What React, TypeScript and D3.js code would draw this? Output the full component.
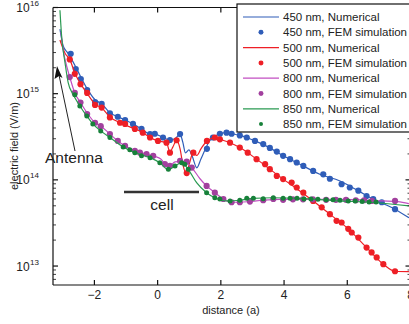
import React from 'react';
import * as d3 from 'd3';

type Pt = [number, number];

// distance (a), electric field (V/m)
const xTicks = [-2, 0, 2, 4, 6, 8];
const yDecades = [13, 14, 15, 16];

const legendLabels = [
  '450 nm, Numerical',
  '450 nm, FEM simulation',
  '500 nm, Numerical',
  '500 nm, FEM simulation',
  '800 nm, Numerical',
  '800 nm, FEM simulation',
  '850 nm, Numerical',
  '850 nm, FEM simulation',
];

const num450: Pt[] = [
  [-3.09, 5.6e15], [-2.99, 3.6e15], [-2.84, 2.95e15], [-2.72, 2.5e15], [-2.59, 2.04e15],
  [-2.43, 1.56e15], [-2.24, 1.16e15], [-1.98, 8.5e14], [-1.76, 7.6e14], [-1.51, 6.0e14],
  [-1.26, 5.4e14], [-1.03, 4.95e14], [-0.78, 4.46e14], [-0.51, 3.9e14], [-0.24, 3.4e14],
  [-0.09, 3.4e14], [0.17, 3.1e14], [0.39, 2.9e14], [0.58, 3.07e14], [0.71, 3.4e14],
  [0.8, 2.7e14], [0.88, 2.06e14], [0.99, 2.23e14], [1.09, 1.9e14], [1.24, 1.38e14],
  [1.37, 1.75e14], [1.5, 2.23e14], [1.62, 2.75e14], [1.75, 3.1e14], [1.97, 3.43e14],
  [2.19, 3.53e14], [2.35, 3.43e14], [2.6, 3.28e14], [3.08, 2.83e14], [3.55, 2.35e14],
  [3.97, 1.9e14], [4.5, 1.52e14], [5.13, 1.16e14], [5.77, 9.7e13], [6.34, 7.5e13],
  [6.82, 5.97e13], [7.51, 4.57e13], [7.95, 3.63e13],
];

const fem450: Pt[] = [
  [-2.75, 2.9e15], [-2.59, 1.93e15], [-2.43, 1.48e15], [-2.23, 1.1e15], [-1.98, 8.0e14],
  [-1.77, 7.6e14], [-1.51, 5.9e14], [-1.26, 5.4e14], [-1.03, 4.95e14], [-0.78, 4.46e14],
  [-0.51, 3.9e14], [-0.24, 3.4e14], [-0.09, 3.43e14], [0.17, 3.1e14], [0.39, 2.9e14],
  [0.71, 3.4e14], [1.56, 2.29e14], [1.75, 3.1e14], [1.97, 3.43e14], [2.18, 3.53e14],
  [2.34, 3.43e14], [2.6, 3.28e14], [2.82, 3.1e14], [3.08, 2.83e14], [3.34, 2.6e14],
  [3.55, 2.35e14], [3.77, 2.13e14], [3.97, 1.9e14], [4.19, 1.74e14], [4.4, 1.59e14],
  [4.61, 1.45e14], [4.92, 1.27e14], [5.24, 1.16e14], [5.45, 1.03e14], [5.82, 8.9e13],
  [6.08, 8.15e13], [6.35, 7.5e13], [6.61, 6.5e13], [6.82, 6.0e13], [7.09, 5.5e13],
  [7.51, 4.57e13],
];

const num500: Pt[] = [
  [-3.09, 4.2e15], [-2.93, 2.95e15], [-2.78, 2.5e15], [-2.62, 1.74e15], [-2.43, 1.29e15],
  [-2.24, 1.02e15], [-1.98, 7.6e14], [-1.76, 6.8e14], [-1.51, 5.37e14], [-1.19, 4.6e14],
  [-0.72, 3.9e14], [-0.47, 3.53e14], [-0.24, 3.1e14], [0.01, 2.83e14], [0.28, 2.7e14],
  [0.39, 2.1e14], [0.48, 2.4e14], [0.6, 2.87e14], [0.71, 2.29e14], [0.8, 1.49e14],
  [0.91, 1.2e14], [1.01, 1.57e14], [1.12, 2.06e14], [1.24, 1.92e14], [1.37, 2.29e14],
  [1.56, 2.83e14], [1.81, 3.07e14], [1.97, 2.95e14], [2.29, 2.7e14], [2.6, 2.37e14],
  [3.13, 1.74e14], [3.55, 1.33e14], [3.97, 1.02e14], [4.4, 7.9e13], [4.92, 5.7e13],
  [5.45, 4.0e13], [6.03, 2.7e13], [6.61, 1.64e13], [7.14, 1.05e13], [7.51, 8.7e12],
  [7.95, 8.6e12],
];

const fem500: Pt[] = [
  [-2.78, 2.5e15], [-2.62, 1.7e15], [-2.44, 1.29e15], [-2.23, 1.02e15], [-1.98, 7.4e14],
  [-1.77, 6.9e14], [-1.51, 5.3e14], [-1.19, 4.6e14], [-1.03, 4.46e14], [-0.72, 3.9e14],
  [-0.47, 3.53e14], [-0.24, 3.1e14], [0.01, 2.83e14], [0.28, 2.7e14], [0.39, 2.07e14],
  [0.6, 2.88e14], [0.92, 1.2e14], [1.13, 2.07e14], [1.56, 2.83e14], [1.81, 3.1e14],
  [1.97, 2.95e14], [2.29, 2.7e14], [2.6, 2.37e14], [2.85, 2.07e14], [3.13, 1.74e14],
  [3.4, 1.52e14], [3.55, 1.33e14], [3.77, 1.11e14], [3.97, 1.02e14], [4.24, 9.3e13],
  [4.4, 8.15e13], [4.61, 7.1e13], [4.92, 5.7e13], [5.19, 4.8e13], [5.45, 4.0e13],
  [5.66, 3.35e13], [5.82, 3.2e13], [6.03, 2.7e13], [6.14, 2.45e13], [6.35, 2.14e13],
  [6.61, 1.64e13], [6.77, 1.44e13], [6.93, 1.26e13], [7.14, 1.05e13], [7.51, 8.7e12],
];

const num800: Pt[] = [
  [-3.06, 5.2e15], [-2.97, 2.95e15], [-2.87, 2.04e15], [-2.78, 1.56e15], [-2.62, 1.02e15],
  [-2.43, 7.8e14], [-2.23, 5.97e14], [-1.98, 4.6e14], [-1.79, 4.2e14], [-1.51, 3.4e14],
  [-1.26, 2.83e14], [-1.03, 2.48e14], [-0.72, 2.17e14], [-0.35, 1.99e14], [-0.09, 1.87e14],
  [0.1, 1.75e14], [0.34, 1.4e14], [0.55, 1.62e14], [0.71, 1.64e14], [0.92, 1.58e14],
  [1.08, 1.39e14], [1.34, 1.03e14], [1.55, 8.5e13], [1.81, 7.1e13], [2.08, 5.97e13],
  [2.34, 5.5e13], [2.6, 5.5e13], [2.92, 5.6e13], [3.33, 5.8e13], [3.87, 5.95e13],
  [4.5, 5.95e13], [5.77, 5.95e13], [7.13, 5.7e13], [7.6, 5.6e13], [7.95, 5.3e13],
];

const fem800: Pt[] = [
  [-2.78, 1.56e15], [-2.62, 1.02e15], [-2.44, 7.9e14], [-2.23, 5.8e14], [-1.98, 4.6e14],
  [-1.8, 4.2e14], [-1.51, 3.4e14], [-1.26, 2.83e14], [-1.03, 2.48e14], [-0.72, 2.17e14],
  [-0.56, 2.07e14], [-0.35, 1.99e14], [-0.14, 1.9e14], [0.23, 1.52e14], [0.39, 1.45e14],
  [0.71, 1.66e14], [0.92, 1.63e14], [1.08, 1.39e14], [1.55, 8.5e13], [1.81, 7.1e13],
  [2.08, 6.0e13], [2.34, 5.5e13], [2.6, 5.5e13], [2.92, 5.6e13], [3.34, 5.8e13],
  [3.66, 6.0e13], [3.97, 5.87e13], [4.28, 5.95e13], [4.6, 5.95e13], [4.91, 5.95e13],
  [5.33, 5.87e13], [5.64, 5.87e13], [5.96, 5.87e13], [6.27, 5.8e13], [6.53, 5.8e13],
  [6.78, 5.7e13], [7.51, 5.7e13],
];

const num850: Pt[] = [
  [-3.09, 9.3e15], [-3.03, 4.3e15], [-2.93, 2.29e15], [-2.83, 1.34e15], [-2.68, 9.9e14],
  [-2.46, 7.2e14], [-2.24, 5.5e14], [-2.05, 4.46e14], [-1.8, 3.7e14], [-1.51, 3.1e14],
  [-1.09, 2.41e14], [-0.72, 2.07e14], [-0.24, 1.81e14], [0.07, 1.58e14], [0.34, 1.31e14],
  [0.55, 1.45e14], [0.76, 1.58e14], [0.86, 1.49e14], [1.02, 1.24e14], [1.24, 9.2e13],
  [1.55, 7.1e13], [1.81, 6.2e13], [2.18, 5.7e13], [2.6, 5.8e13], [3.02, 6.1e13],
  [3.65, 6.2e13], [4.5, 6.1e13], [5.77, 5.7e13], [6.82, 5.46e13], [7.95, 5.0e13],
];

const fem850: Pt[] = [
  [-2.62, 9.7e14], [-2.46, 7.2e14], [-2.24, 5.5e14], [-2.05, 4.46e14], [-1.8, 3.7e14],
  [-1.51, 3.1e14], [-1.09, 2.41e14], [-0.88, 2.23e14], [-0.72, 2.07e14], [-0.51, 1.9e14],
  [-0.24, 1.81e14], [0.07, 1.58e14], [0.34, 1.33e14], [0.55, 1.45e14], [0.76, 1.58e14],
  [0.86, 1.52e14], [0.97, 1.33e14], [1.55, 7.1e13], [1.81, 6.2e13], [1.97, 6.0e13],
  [2.29, 5.7e13], [2.6, 5.8e13], [2.82, 6.1e13], [3.03, 6.1e13], [3.34, 6.05e13],
  [3.66, 6.2e13], [3.97, 6.1e13], [4.19, 6.1e13], [4.41, 6.1e13], [4.63, 6.0e13],
  [4.85, 6.0e13], [5.07, 5.95e13], [5.33, 5.87e13], [5.55, 5.87e13], [5.77, 5.8e13],
  [6.03, 5.7e13], [6.25, 5.7e13], [6.47, 5.6e13], [6.69, 5.55e13], [6.91, 5.55e13],
];

const series = [
  { num: num450, fem: fem450, line: '#2f5db8', dot: '#2f5db8', r: 3.1 },
  { num: num500, fem: fem500, line: '#ee1f26', dot: '#ee1f26', r: 3.1 },
  { num: num800, fem: fem800, line: '#c24fc2', dot: '#a2409e', r: 3.1 },
  { num: num850, fem: fem850, line: '#2a9a52', dot: '#17813a', r: 2.5 },
];

const font = '"Liberation Sans", Arial, sans-serif';

export default function App() {
  const W = 409;
  const H = 324;
  const left = 53;
  const right = 410.5;
  const top = 7.5;
  const bottom = 285;

  const x = d3.scaleLinear().domain([-3.31, 8]).range([left, right]);
  const y = d3.scaleLog().domain([Math.pow(10, 12.78), 1e16]).range([bottom, top]);

  const line = d3
    .line<Pt>()
    .x(d => x(d[0]))
    .y(d => y(d[1]))
    .curve(d3.curveMonotoneX);

  const minor: number[] = [];
  for (let k = 12; k <= 15; k++) {
    for (let m = 2; m <= 9; m++) {
      const v = m * Math.pow(10, k);
      if (v > y.domain()[0] && v < y.domain()[1]) minor.push(v);
    }
  }

  const legX = 237;
  const legY = 4;
  const rowH = 15.3;

  return (
    <svg
      width={W}
      height={H}
      style={{ position: 'absolute', left: 0, top: 0, background: '#fff' }}
      fontFamily={font}
    >
      <defs>
        <clipPath id="plot">
          <rect x={left} y={top} width={right - left} height={bottom - top} />
        </clipPath>
      </defs>

      {/* series */}
      <g clipPath="url(#plot)">
        {series.map((s, i) => (
          <g key={i}>
            <path d={line(s.num) || ''} fill="none" stroke={s.line} strokeWidth={1.2} />
            {s.fem.map((d, j) => (
              <circle key={j} cx={x(d[0])} cy={y(d[1])} r={s.r} fill={s.dot} />
            ))}
          </g>
        ))}
      </g>

      {/* box */}
      <g stroke="#111" strokeWidth={1.2} fill="none">
        <line x1={left} x2={right} y1={bottom} y2={bottom} />
        <line x1={left} x2={right} y1={top} y2={top} />
        <line x1={left} x2={left} y1={top} y2={bottom} />
        <line x1={right} x2={right} y1={top} y2={bottom} />
        {xTicks.map(t => (
          <g key={t}>
            <line x1={x(t)} x2={x(t)} y1={bottom} y2={bottom - 5} />
            <line x1={x(t)} x2={x(t)} y1={top} y2={top + 5} />
          </g>
        ))}
        {yDecades.map(k => (
          <g key={k}>
            <line x1={left} x2={left + 5} y1={y(Math.pow(10, k))} y2={y(Math.pow(10, k))} />
            <line x1={right} x2={right - 5} y1={y(Math.pow(10, k))} y2={y(Math.pow(10, k))} />
          </g>
        ))}
        {minor.map(v => (
          <g key={v}>
            <line x1={left} x2={left + 3} y1={y(v)} y2={y(v)} strokeWidth={0.8} />
            <line x1={right} x2={right - 3} y1={y(v)} y2={y(v)} strokeWidth={0.8} />
          </g>
        ))}
      </g>

      {/* tick labels */}
      {xTicks.map(t => (
        <text key={t} x={x(t)} y={299} textAnchor="middle" fontSize={12} fill="#222">
          {t < 0 ? `\u2212${Math.abs(t)}` : t}
        </text>
      ))}
      {yDecades.map(k => (
        <text key={k} x={39} y={y(Math.pow(10, k)) + 4.5} textAnchor="end" fontSize={12} fill="#222">
          10
          <tspan dx={0.5} dy={-6} fontSize={8}>{k}</tspan>
        </text>
      ))}

      <text x={231} y={314} textAnchor="middle" fontSize={11} fill="#222">
        distance (a)
      </text>
      <text
        transform="translate(18,146) rotate(-90)"
        textAnchor="middle"
        fontSize={11}
        fill="#222"
      >
        electric field (V/m)
      </text>

      {/* annotations */}
      <line x1={75} y1={151} x2={59} y2={75} stroke="#222" strokeWidth={1} />
      <path d="M57,66 L62.5,78 L59,76 L54.5,79 Z" fill="#111" />
      <text x={45} y={163} fontSize={15.5} fill="#222">Antenna</text>
      <line x1={124} x2={199} y1={192} y2={192} stroke="#333" strokeWidth={2.5} />
      <text x={162} y={210} textAnchor="middle" fontSize={15.5} fill="#222">cell</text>

      {/* legend */}
      <rect x={legX} y={legY} width={200} height={128} fill="#fff" stroke="#111" strokeWidth={1.2} />
      {legendLabels.map((lab, i) => {
        const cy = legY + 13 + i * rowH;
        const s = series[Math.floor(i / 2)];
        return (
          <g key={lab}>
            {i % 2 === 0 ? (
              <line x1={243} x2={279} y1={cy} y2={cy} stroke={s.line} strokeWidth={1.2} />
            ) : (
              <circle cx={261} cy={cy} r={s.r * 0.8} fill={s.dot} />
            )}
            <text x={283} y={cy + 4} fontSize={11.5} fill="#222">{lab}</text>
          </g>
        );
      })}
    </svg>
  );
}
